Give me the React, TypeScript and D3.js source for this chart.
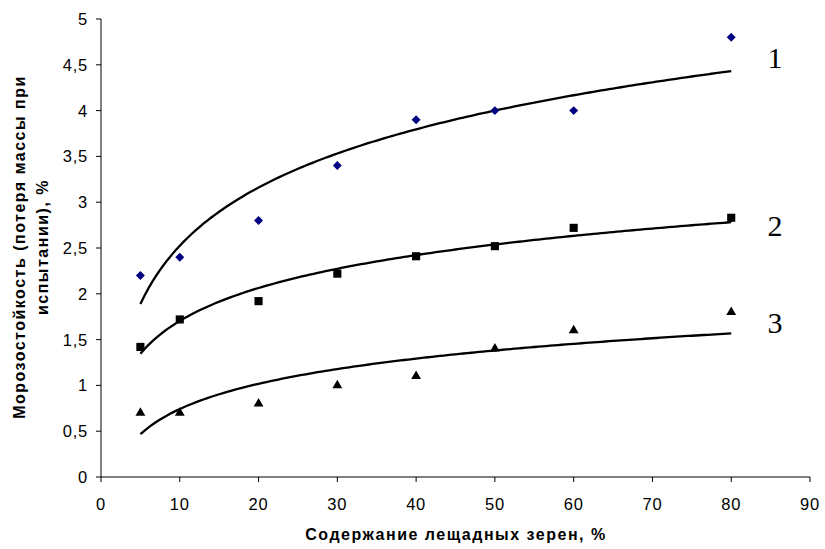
import { scaleLinear, line, range, symbol, symbolSquare, symbolTriangle } from 'd3'

// content of flaky grains, %
const xValues = [5, 10, 20, 30, 40, 50, 60, 80]
// frost resistance (mass loss), %
const series1 = [2.2, 2.4, 2.8, 3.4, 3.9, 4.0, 4.0, 4.8]
const series2 = [1.42, 1.72, 1.92, 2.22, 2.41, 2.52, 2.72, 2.83]
const series3 = [0.7, 0.7, 0.8, 1.0, 1.1, 1.4, 1.6, 1.8]
const seriesLabels = ['1', '2', '3']
const xTicks = [0, 10, 20, 30, 40, 50, 60, 70, 80, 90]
const yTicks = [0, 0.5, 1, 1.5, 2, 2.5, 3, 3.5, 4, 4.5, 5]

const W = 825
const H = 549
const margin = { left: 101, right: 15, top: 19, bottom: 72 }

// logarithmic trend line, like the spreadsheet's log trendline
function logFit(xs: number[], ys: number[]) {
  const lx = xs.map(Math.log)
  const mx = lx.reduce((a, b) => a + b, 0) / lx.length
  const my = ys.reduce((a, b) => a + b, 0) / ys.length
  let sxy = 0
  let sxx = 0
  lx.forEach((v, i) => {
    sxy += (v - mx) * (ys[i] - my)
    sxx += (v - mx) * (v - mx)
  })
  const a = sxy / sxx
  const b = my - a * mx
  return (x: number) => a * Math.log(x) + b
}

export default function App() {
  const x = scaleLinear().domain([0, 90]).range([margin.left, W - margin.right])
  const y = scaleLinear().domain([0, 5]).range([H - margin.bottom, margin.top])
  const fmt = (v: number) => String(v).replace('.', ',')

  const series = [
    { values: series1, shape: symbolSquare, size: 40, rot: 45, fill: '#000080', labelDy: -3 },
    { values: series2, shape: symbolSquare, size: 66, rot: 0, fill: '#000', labelDy: 14 },
    { values: series3, shape: symbolTriangle, size: 42, rot: 0, fill: '#000', labelDy: 0 },
  ]

  const xs = range(5, 80.01, 0.5)
  const path = line<number[]>()
    .x((d) => x(d[0]))
    .y((d) => y(d[1]))

  const font = 'Arial, "Liberation Sans", sans-serif'
  const y0 = y(0)

  return (
    <svg width={W} height={H} style={{ position: 'absolute', left: 0, top: 0, background: '#fff' }}>
      {/* axes */}
      <line x1={x(0)} x2={x(90)} y1={y0} y2={y0} stroke="#000" />
      <line x1={x(0)} x2={x(0)} y1={y(0)} y2={y(5)} stroke="#000" />
      {xTicks.map((t) => (
        <g key={'x' + t}>
          <line x1={x(t)} x2={x(t)} y1={y0} y2={y0 + 5} stroke="#000" />
          <text x={x(t)} y={510} textAnchor="middle" fontFamily={font} fontSize={16.5} letterSpacing={0.8}>
            {t}
          </text>
        </g>
      ))}
      {yTicks.map((t) => (
        <g key={'y' + t}>
          <line x1={x(0) - 5} x2={x(0)} y1={y(t)} y2={y(t)} stroke="#000" />
          <text x={88} y={y(t) + 6} textAnchor="end" fontFamily={font} fontSize={16.5} letterSpacing={0.8}>
            {fmt(t)}
          </text>
        </g>
      ))}

      {/* trend lines */}
      {series.map((s, i) => {
        const f = logFit(xValues, s.values)
        return (
          <path
            key={'l' + i}
            d={path(xs.map((v) => [v, f(v)])) || ''}
            fill="none"
            stroke="#000"
            strokeWidth={2.3}
          />
        )
      })}

      {/* points */}
      {series.map((s, i) =>
        s.values.map((v, j) => (
          <path
            key={'p' + i + '-' + j}
            d={symbol(s.shape, s.size)() || ''}
            transform={`translate(${x(xValues[j])},${y(v)}) rotate(${s.rot})`}
            fill={s.fill}
          />
        ))
      )}

      {/* series labels */}
      {series.map((s, i) => {
        const f = logFit(xValues, s.values)
        return (
          <text
            key={'s' + i}
            x={775}
            y={y(f(80)) + s.labelDy}
            textAnchor="middle"
            fontFamily='"Times New Roman", "Liberation Serif", serif'
            fontSize={30}
          >
            {seriesLabels[i]}
          </text>
        )
      })}

      {/* axis titles */}
      <text
        x={456}
        y={540}
        textAnchor="middle"
        fontFamily={font}
        fontSize={16}
        fontWeight="bold"
        letterSpacing={1.5}
      >
        Содержание лещадных зерен, %
      </text>
      <g transform={`translate(25,247) rotate(-90)`}>
        <text x={0} y={0} textAnchor="middle" fontFamily={font} fontSize={16} fontWeight="bold" letterSpacing={1.5}>
          Морозостойкость (потеря массы при
        </text>
        <text x={0} y={23} textAnchor="middle" fontFamily={font} fontSize={16} fontWeight="bold" letterSpacing={1.5}>
          испытании), %
        </text>
      </g>
    </svg>
  )
}
